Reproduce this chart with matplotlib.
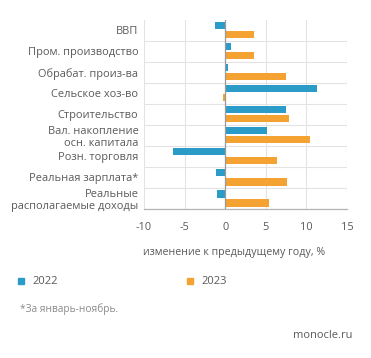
import numpy as np
import matplotlib.pyplot as plt
from matplotlib.patches import Rectangle

# data
categories = ['ВВП', 'Пром. производство', 'Обрабат. произ-ва', 'Сельское хоз-во',
              'Строительство', 'Вал. накопление\nосн. капитала', 'Розн. торговля',
              'Реальная зарплата*', 'Реальные\nрасполагаемые доходы']
val_2022 = [-1.2, 0.7, 0.3, 11.3, 7.5, 5.2, -6.4, -1.1, -1.0]
val_2023 = [3.6, 3.5, 7.5, -0.3, 7.9, 10.5, 6.4, 7.6, 5.4]
x_ticks = [-10, -5, 0, 5, 10, 15]

BLUE = '#2b9cc8'
ORANGE = '#f4a232'
TEXT = '#5a5a5a'
GRID = '#e3e3e3'

plt.rcParams['font.family'] = ['Open Sans', 'DejaVu Sans']

W, H = 371, 358
fig = plt.figure(figsize=(W / 100, H / 100), dpi=100)
ax = fig.add_axes([144 / W, 1 - 209 / H, (347 - 144) / W, (209 - 19.5) / H])

n = len(categories)
y = np.arange(n)
bh = 0.34
ax.barh(y - 0.215, val_2022, height=bh, color=BLUE, zorder=3)
ax.barh(y + 0.215, val_2023, height=bh, color=ORANGE, zorder=3)

ax.set_xlim(-10, 15)
ax.set_ylim(n - 0.5, -0.5)
ax.set_xticks(x_ticks)
ax.set_xticklabels([str(v) for v in x_ticks])
ax.set_yticks(y)
ax.set_yticklabels(categories, linespacing=1.1)
ax.tick_params(axis='both', length=0, colors=TEXT, labelsize=7.9)
ax.tick_params(axis='x', pad=9)
ax.tick_params(axis='y', pad=4)

# grid
for gx in x_ticks:
    if gx == 0:
        continue
    ax.axvline(gx, color=GRID, lw=0.8, zorder=1)
for gy in np.arange(-0.5, n, 1.0):
    ax.axhline(gy, color=GRID, lw=0.8, zorder=1)
ax.axvline(0, color='#9a9a9a', lw=0.9, zorder=4)

for s in ['top', 'right', 'left']:
    ax.spines[s].set_visible(False)
ax.spines['bottom'].set_color('#b5b5b5')
ax.spines['bottom'].set_linewidth(0.9)

fig.text(234 / W, 1 - 253 / H, 'изменение к предыдущему году, %', ha='center', va='center',
         fontsize=7.7, color=TEXT)

# legend
for xs, col, lab in [(21, BLUE, '2022'), (190, ORANGE, '2023')]:
    fig.patches.append(Rectangle(((xs - 3) / W, 1 - 284 / H), 6 / W, 6 / H,
                                 transform=fig.transFigure, color=col))
    fig.text((xs + 11) / W, 1 - 281 / H, lab, ha='left', va='center', fontsize=8, color=TEXT)

fig.text(20 / W, 1 - 309 / H, '*За январь-ноябрь.', ha='left', va='center',
         fontsize=7.3, color='#8a8a8a')
fig.text(352 / W, 1 - 336 / H, 'monocle.ru', ha='right', va='center',
         fontsize=8, color=TEXT)

fig.savefig('out.png', dpi=100)
